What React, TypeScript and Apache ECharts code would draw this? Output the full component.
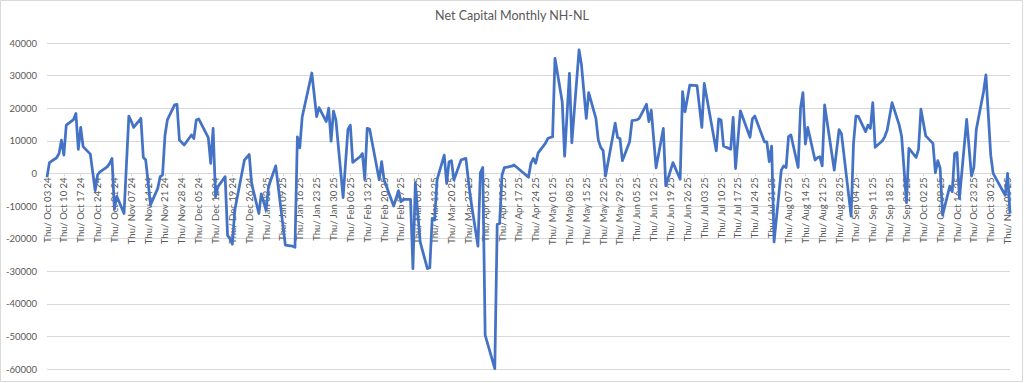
import React, { useEffect, useRef } from "react";
import * as echarts from "echarts";

const chartTitle = "Net Capital Monthly NH-NL";
const axisStart = "2024-10-03";
const axisEnd = "2025-11-07";
const yMin = -60000;
const yMax = 40000;
const yStep = 10000;

const pointDates = [
  "2024-10-03","2024-10-04","2024-10-07","2024-10-08","2024-10-09","2024-10-10","2024-10-11","2024-10-14","2024-10-15","2024-10-16",
  "2024-10-17","2024-10-18","2024-10-21","2024-10-22","2024-10-23","2024-10-24","2024-10-25","2024-10-28","2024-10-29","2024-10-30",
  "2024-10-31","2024-11-01","2024-11-04","2024-11-06","2024-11-07","2024-11-08","2024-11-11","2024-11-12","2024-11-13","2024-11-15",
  "2024-11-18","2024-11-19","2024-11-20","2024-11-21","2024-11-22","2024-11-25","2024-11-26","2024-11-27","2024-11-29","2024-12-02",
  "2024-12-03","2024-12-04","2024-12-05","2024-12-09","2024-12-10","2024-12-11","2024-12-12","2024-12-13","2024-12-16","2024-12-17",
  "2024-12-18","2024-12-19","2024-12-20","2024-12-24","2024-12-26","2024-12-27","2024-12-30","2024-12-31","2025-01-02","2025-01-03",
  "2025-01-06","2025-01-10","2025-01-13","2025-01-14","2025-01-15","2025-01-16","2025-01-17","2025-01-21","2025-01-23","2025-01-24",
  "2025-01-27","2025-01-28","2025-01-29","2025-01-30","2025-01-31","2025-02-03","2025-02-05","2025-02-06","2025-02-07","2025-02-10",
  "2025-02-11","2025-02-12","2025-02-13","2025-02-14","2025-02-18","2025-02-19","2025-02-20","2025-02-24","2025-02-26","2025-02-27",
  "2025-02-28","2025-03-03","2025-03-04","2025-03-05","2025-03-06","2025-03-07","2025-03-10","2025-03-11","2025-03-12","2025-03-13",
  "2025-03-14","2025-03-17","2025-03-18","2025-03-19","2025-03-20","2025-03-21","2025-03-24","2025-03-25","2025-03-26","2025-03-27",
  "2025-03-28","2025-03-31","2025-04-01","2025-04-02","2025-04-03","2025-04-07","2025-04-08","2025-04-09","2025-04-10","2025-04-11",
  "2025-04-14","2025-04-15","2025-04-21","2025-04-22","2025-04-23","2025-04-24","2025-04-25","2025-04-28","2025-04-29","2025-04-30",
  "2025-05-01","2025-05-02","2025-05-05","2025-05-06","2025-05-08","2025-05-09","2025-05-12","2025-05-13","2025-05-15","2025-05-16",
  "2025-05-19","2025-05-20","2025-05-21","2025-05-22","2025-05-23","2025-05-27","2025-05-28","2025-05-29","2025-05-30","2025-06-02",
  "2025-06-03","2025-06-04","2025-06-05","2025-06-06","2025-06-09","2025-06-10","2025-06-11","2025-06-13","2025-06-16","2025-06-17",
  "2025-06-20","2025-06-23","2025-06-24","2025-06-25","2025-06-26","2025-06-27","2025-06-30","2025-07-02","2025-07-03","2025-07-08",
  "2025-07-09","2025-07-10","2025-07-11","2025-07-14","2025-07-15","2025-07-16","2025-07-18","2025-07-22","2025-07-23","2025-07-24",
  "2025-07-28","2025-07-29","2025-07-30","2025-07-31","2025-08-01","2025-08-04","2025-08-05","2025-08-06","2025-08-07","2025-08-08",
  "2025-08-11","2025-08-12","2025-08-13","2025-08-14","2025-08-15","2025-08-18","2025-08-19","2025-08-20","2025-08-21","2025-08-22",
  "2025-08-26","2025-08-28","2025-08-29","2025-09-02","2025-09-03","2025-09-04","2025-09-05","2025-09-08","2025-09-09","2025-09-10",
  "2025-09-11","2025-09-12","2025-09-15","2025-09-16","2025-09-17","2025-09-19","2025-09-22","2025-09-23","2025-09-25","2025-09-26",
  "2025-09-29","2025-09-30","2025-10-01","2025-10-03","2025-10-06","2025-10-07","2025-10-08","2025-10-09","2025-10-10","2025-10-13",
  "2025-10-14","2025-10-15","2025-10-16","2025-10-17","2025-10-20","2025-10-22","2025-10-23","2025-10-24","2025-10-27","2025-10-28",
  "2025-10-30","2025-10-31","2025-11-05","2025-11-06","2025-11-07",
];

const pointValues = [
  -1200, 3300, 4800, 6100, 10200, 5600, 14800, 16500, 18400, 7400,
  14100, 8200, 5900, 300, -5300, -500, 500, 2000, 3000, 4600,
  -11000, -7000, -12300, 17600, 16000, 14100, 16900, 4900, 4100, -9700,
  -4600, -1000, -500, 11600, 16400, 21000, 21200, 10200, 8700, 11800,
  10700, 16400, 16700, 11000, 3100, 13800, -7200, -4100, -1000, -19000,
  -20000, -21700, -11300, 4100, 5800, -3100, -12300, -6300, -11300, -4100,
  2300, -22000, -22300, -22700, 11200, 7800, 17300, 30800, 17400, 20200,
  15900, 20000, 9900, 19100, 16400, -7400, 13500, 14800, 3400, 5100,
  6100, -1800, 13800, 13600, -2000, 3600, -2000, -10000, -5300, -8700,
  -8000, -8000, -29200, -2900, -12000, -21000, -29200, -28900, -13800, -14300,
  -2000, 5600, -3100, 3600, 3900, -2000, 4100, 4400, 4600, -2000,
  -8000, -22300, 200, 1800, -49600, -59900, -15600, -15400, -500, 1800,
  2200, 2600, -1200, 3100, 4600, 3100, 6300, 9200, 10700, 11000,
  11200, 35300, 22000, 5300, 30700, 9400, 37900, 33300, 16900, 24800,
  16900, 10200, 8000, 7000, -800, 15400, 11000, 10700, 3900, 9700,
  16200, 16300, 16400, 16900, 21200, 15900, 19400, 1700, 13800, -3800,
  3300, -1800, 25100, 18900, 23000, 27100, 26900, 14100, 27600, 6900,
  16700, 16400, 8400, 7400, 17200, 1500, 19200, 11100, 16700, 17600,
  9700, 9700, 3600, 8400, -21000, 1000, 2300, 1800, 11300, 11800,
  1800, 20000, 24800, 9000, 14100, 4100, 4800, 5100, 2300, 21000,
  1000, 13400, 12200, -13100, 9200, 17600, 17500, 12800, 14800, 13800,
  21700, 8000, 10000, 11300, 13300, 21700, 14800, 11300, -9000, 7700,
  4900, 7400, 19700, 11500, 9200, 200, 3900, 1500, -12800, -3900,
  -5600, 6100, 6400, -7700, 16600, -800, 1800, 13500, 25000, 30200,
  5600, 0, -6700, 0, -12300,
];

const weekdayNames = ["Sun", "Mon", "Tue", "Wed", "Thu", "Fri", "Sat"];
const monthNames = ["Jan", "Feb", "Mar", "Apr", "May", "Jun", "Jul", "Aug", "Sep", "Oct", "Nov", "Dec"];

const DAY_MS = 86400000;
const toUTC = (s: string) => Date.UTC(+s.slice(0, 4), +s.slice(5, 7) - 1, +s.slice(8, 10));

function buildCategories(): string[] {
  const s = toUTC(axisStart);
  const e = toUTC(axisEnd);
  const n = Math.round((e - s) / DAY_MS) + 1;
  const out: string[] = [];
  for (let i = 0; i < n; i++) out.push(new Date(s + i * DAY_MS).toISOString().slice(0, 10));
  return out;
}

function formatLabel(iso: string): string {
  const d = new Date(toUTC(iso));
  const dd = String(d.getUTCDate()).padStart(2, "0");
  const yy = String(d.getUTCFullYear()).slice(2);
  return `${weekdayNames[d.getUTCDay()]}/ ${monthNames[d.getUTCMonth()]} ${dd} ${yy}`;
}

const W = 1024;
const H = 383;
const GRID = { left: 47, right: 14, top: 43, bottom: 14 };

export default function App() {
  const ref = useRef<HTMLDivElement>(null);

  useEffect(() => {
    if (!ref.current) return;
    const chart = echarts.init(ref.current, undefined, { renderer: "svg" });
    const categories = buildCategories();
    const idx: Record<string, number> = {};
    categories.forEach((c, i) => (idx[c] = i));
    const seriesData: (number | null)[] = categories.map(() => null);
    pointDates.forEach((d, i) => {
      if (idx[d] !== undefined) seriesData[idx[d]] = pointValues[i];
    });
    const weekly = (index: number) => index % 7 === 0;
    const font = "Lato, 'Liberation Sans', sans-serif";
    const plotH = H - GRID.top - GRID.bottom;
    const zeroOffset = -plotH * ((0 - yMin) / (yMax - yMin));

    chart.setOption({
      animation: false,
      backgroundColor: "#ffffff",
      title: {
        text: chartTitle,
        left: "center",
        top: 4,
        textStyle: { fontFamily: font, fontSize: 12.5, fontWeight: "normal", color: "#595959" },
      },
      graphic: [
        {
          type: "rect",
          shape: { x: 0.5, y: 0.5, width: W - 2, height: H - 2 },
          style: { fill: "none", stroke: "#d9d9d9", lineWidth: 1 },
          silent: true,
        },
      ],
      grid: { ...GRID, containLabel: false, outerBoundsMode: "none" },
      xAxis: {
        type: "category",
        data: categories,
        boundaryGap: false,
        position: "bottom",
        offset: zeroOffset,
        axisLine: { show: true, onZero: false, lineStyle: { color: "#d9d9d9", width: 1 } },
        axisTick: { show: true, interval: weekly, length: 3, lineStyle: { color: "#d9d9d9" } },
        axisLabel: {
          interval: weekly,
          rotate: 90,
          margin: 4,
          fontFamily: font,
          fontSize: 9.5,
          color: "#595959",
          formatter: (v: string) => formatLabel(v),
        },
        splitLine: { show: false },
      },
      yAxis: {
        type: "value",
        min: yMin,
        max: yMax,
        interval: yStep,
        axisLine: { show: false },
        axisTick: { show: false },
        axisLabel: {
          fontFamily: font,
          fontSize: 9.5,
          color: "#595959",
          margin: 10,
          formatter: (v: number) => String(v),
        },
        splitLine: { lineStyle: { color: "#d9d9d9", width: 1 } },
      },
      series: [
        {
          type: "line",
          data: seriesData,
          connectNulls: true,
          showSymbol: false,
          symbol: "none",
          lineStyle: { color: "#4472C4", width: 2.75, join: "round" },
        },
      ],
    });
    return () => chart.dispose();
  }, []);

  return (
    <div
      ref={ref}
      style={{ position: "absolute", left: 0, top: 0, width: W, height: H }}
    />
  );
}
